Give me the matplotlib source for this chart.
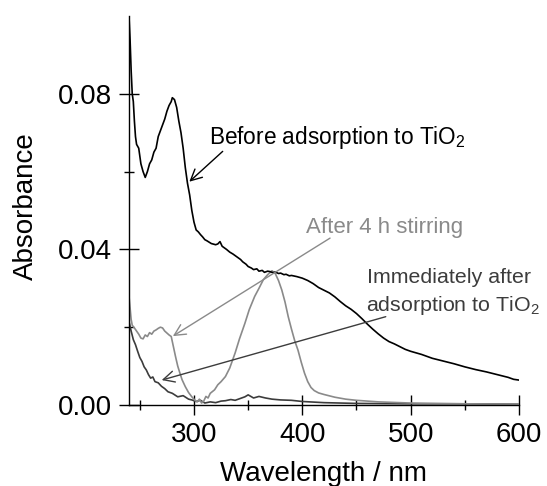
"""
UV-vis absorbance spectra before and after adsorption to TiO2.
"""

import matplotlib

matplotlib.use("Agg")
import matplotlib.pyplot as plt
import numpy as np

plt.rcParams["font.family"] = ["Liberation Sans", "DejaVu Sans"]
plt.rcParams["mathtext.default"] = "regular"

# Before adsorption to TiO2 (black)
before_nm = [240, 241, 242, 243, 244, 245, 246, 247, 249, 251, 253, 255, 257, 259,
             261, 263, 265, 267, 269, 271, 273, 275, 277, 279, 280, 282, 284, 286,
             288, 290, 292, 294, 296, 298, 300, 302, 304, 306, 308, 310, 312, 316,
             320, 322, 324, 326, 330, 333, 336, 340, 343, 345, 348, 350, 353, 355,
             358, 360, 363, 365, 368, 370, 373, 375, 378, 380, 383, 385, 388, 390,
             395, 400, 405, 410, 415, 420, 425, 430, 435, 440, 445, 450, 455, 460,
             465, 470, 475, 480, 485, 490, 495, 500, 505, 510, 520, 530, 540, 550,
             560, 570, 580, 590, 595, 600]
before_abs = [0.100, 0.094, 0.086, 0.080, 0.078, 0.073, 0.069, 0.067, 0.066, 0.062,
              0.060, 0.0585, 0.060, 0.062, 0.063, 0.065, 0.066, 0.069, 0.0705, 0.072,
              0.0735, 0.0755, 0.077, 0.078, 0.079, 0.0785, 0.0765, 0.073, 0.070, 0.066,
              0.061, 0.057, 0.054, 0.050, 0.047, 0.045, 0.0445, 0.0438, 0.0432, 0.0425,
              0.0422, 0.0415, 0.0412, 0.0414, 0.0420, 0.0408, 0.0400, 0.0393, 0.0388,
              0.0380, 0.0374, 0.0368, 0.0362, 0.0356, 0.0352, 0.0348, 0.0350, 0.0344,
              0.0346, 0.0341, 0.0344, 0.0343, 0.0340, 0.0342, 0.0338, 0.0339, 0.0335,
              0.0336, 0.0332, 0.0333, 0.0330, 0.0326, 0.0320, 0.0312, 0.0302, 0.0295,
              0.0288, 0.0278, 0.0266, 0.0255, 0.0246, 0.0235, 0.0222, 0.0208, 0.0195,
              0.0183, 0.0172, 0.0163, 0.0157, 0.0150, 0.0143, 0.0138, 0.0134, 0.0130,
              0.0120, 0.0113, 0.0106, 0.0098, 0.0091, 0.0085, 0.0078, 0.0071, 0.0066,
              0.0064]

# After 4 h stirring (light grey)
stirred_nm = [240, 241, 242, 243, 245, 247, 249, 251, 253, 255, 257, 259, 261, 263,
              265, 267, 269, 271, 273, 275, 277, 279, 281, 283, 285, 287, 289, 292,
              295, 298, 301, 303, 305, 307, 309, 311, 313, 315, 319, 322, 325, 329,
              333, 338, 342, 347, 351, 356, 360, 364, 368, 372, 375, 378, 381, 384,
              387, 390, 393, 396, 399, 402, 405, 408, 411, 415, 420, 430, 440, 450,
              470, 500, 550, 600]
stirred_abs = [0.028, 0.025, 0.022, 0.0205, 0.0198, 0.019, 0.0182, 0.0172, 0.0170,
               0.0180, 0.0176, 0.0186, 0.0182, 0.0190, 0.0193, 0.0197, 0.0200, 0.0198,
               0.0190, 0.0185, 0.0180, 0.0176, 0.0150, 0.0124, 0.0100, 0.0082, 0.0065,
               0.0047, 0.0032, 0.0021, 0.0012, 0.0008, 0.0015, 0.0005, 0.0010, 0.0022,
               0.0018, 0.0030, 0.0039, 0.0052, 0.0060, 0.0073, 0.0095, 0.0134, 0.0170,
               0.0210, 0.0245, 0.0279, 0.0300, 0.0322, 0.0335, 0.0345, 0.0338, 0.0320,
               0.0296, 0.0265, 0.0227, 0.0195, 0.0165, 0.0141, 0.0110, 0.0082, 0.0060,
               0.0045, 0.0037, 0.0031, 0.0027, 0.0020, 0.0015, 0.0012, 0.0008, 0.0005,
               0.0003, 0.0002]

# Immediately after adsorption to TiO2 (dark grey)
adsorbed_nm = [240, 242, 244, 246, 248, 250, 252, 254, 256, 258, 260, 262, 264, 267,
               270, 273, 276, 280, 285, 290, 295, 298, 302, 306, 310, 315, 320, 325,
               329, 334, 338, 342, 347, 350, 355, 360, 366, 372, 380, 390, 400, 420,
               450, 500, 550, 600]
adsorbed_abs = [0.0215, 0.019, 0.0168, 0.0155, 0.0138, 0.0122, 0.0112, 0.0098, 0.0090,
                0.0078, 0.0069, 0.0072, 0.0060, 0.0057, 0.0048, 0.0042, 0.0034, 0.0030,
                0.0021, 0.0024, 0.0015, 0.0013, 0.0009, 0.0012, 0.0005, 0.0008, 0.0006,
                0.0010, 0.0011, 0.0014, 0.0012, 0.0016, 0.0021, 0.0026, 0.0018, 0.0022,
                0.0018, 0.0015, 0.0013, 0.0012, 0.0009, 0.0006, 0.0004, 0.0003, 0.0003,
                0.0002]

black = "#000000"
light_grey = "#8a8a8a"
dark_grey = "#3c3c3c"

fig = plt.figure(figsize=(5.47, 4.86), dpi=100)
ax = fig.add_axes([0.2358, 0.1667, 0.7130, 0.8004])

ax.plot(adsorbed_nm, adsorbed_abs, color=dark_grey, linewidth=1.2)
ax.plot(stirred_nm, stirred_abs, color=light_grey, linewidth=1.2)
ax.plot(before_nm, before_abs, color=black, linewidth=1.2)

ax.set_xlim(240, 600)
ax.set_ylim(0, 0.1)
ax.set_xticks([300, 400, 500, 600])
ax.set_xticks([250, 350, 450, 550], minor=True)
ax.set_yticks([0.0, 0.04, 0.08])
ax.set_yticks([0.02, 0.06], minor=True)
ax.set_yticklabels(["0.00", "0.04", "0.08"])

for side in ("top", "right"):
    ax.spines[side].set_visible(False)
for side in ("left", "bottom"):
    ax.spines[side].set_linewidth(1.0)

ax.tick_params(which="major", direction="inout", length=14.4, width=1.0,
               labelsize=20, pad=5.3)
ax.tick_params(which="minor", direction="inout", length=7.2, width=1.0)

ax.set_xlabel("Wavelength / nm", fontsize=20)
ax.set_ylabel("Absorbance", fontsize=20)
ax.xaxis.set_label_coords(0.5, -0.145)
ax.yaxis.set_label_coords(-0.232, 0.512)

arrow = dict(arrowstyle="->,head_length=0.4,head_width=0.2", mutation_scale=20,
             shrinkA=0, shrinkB=0, linewidth=1.0)

ax.text(314, 0.0671, "Before adsorption to TiO$_2$", fontsize=16.3, color=black,
        ha="left", va="baseline")
ax.annotate("", xy=(295.7, 0.0574), xytext=(326.5, 0.0652),
            arrowprops={**arrow, "color": black})

ax.text(403.4, 0.0442, "After 4 h stirring", fontsize=16, color=light_grey,
        ha="left", va="baseline")
ax.annotate("", xy=(280.5, 0.0177), xytext=(425.6, 0.0429),
            arrowprops={**arrow, "color": light_grey})

ax.text(459.4, 0.0313, "Immediately after", fontsize=15.4, color=dark_grey,
        ha="left", va="baseline", clip_on=False)
ax.text(458.6, 0.0242, "adsorption to TiO$_2$", fontsize=15.4, color=dark_grey,
        ha="left", va="baseline", clip_on=False)
ax.annotate("", xy=(270.2, 0.0064), xytext=(477, 0.0227),
            arrowprops={**arrow, "color": dark_grey})

fig.savefig("out.png", dpi=100)
